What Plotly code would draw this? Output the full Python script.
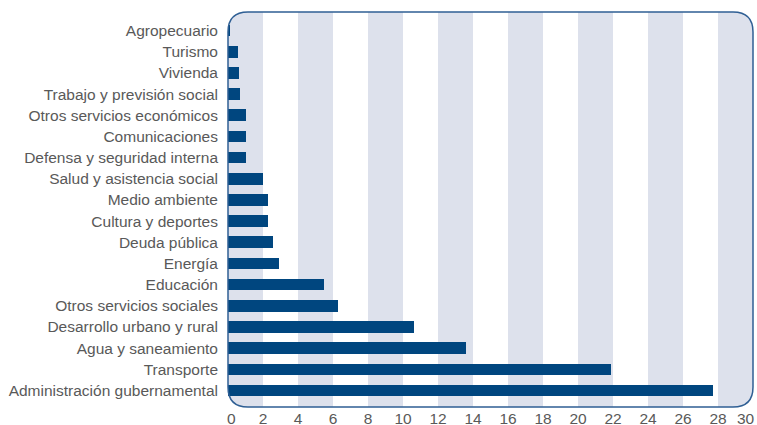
import plotly.graph_objects as go

categories = [
    "Agropecuario", "Turismo", "Vivienda", "Trabajo y previsión social",
    "Otros servicios económicos", "Comunicaciones", "Defensa y seguridad interna",
    "Salud y asistencia social", "Medio ambiente", "Cultura y deportes",
    "Deuda pública", "Energía", "Educación", "Otros servicios sociales",
    "Desarrollo urbano y rural", "Agua y saneamiento", "Transporte",
    "Administración gubernamental",
]
values = [0.1, 0.55, 0.6, 0.7, 1.05, 1.05, 1.05, 2.0, 2.3, 2.3,
          2.55, 2.9, 5.5, 6.3, 10.6, 13.6, 21.9, 27.7]
x_ticks = list(range(0, 31, 2))

# plot the bottom-most category first (Plotly puts first category at bottom)
cats_plot = categories[::-1]
vals_plot = values[::-1]

W, H = 757, 425
ml, mr, mt, mb = 228, 4, 12, 18
pw = W - ml - mr
ph = H - mt - mb
xmax = 30
r_px = 20
rx_p = r_px / pw
ry_p = r_px / ph
rx_d = r_px / pw * xmax

bar_color = "#00467F"
band_color = "#DDE1EC"
frame_color = "#2F5F94"
text_color = "#595959"
fsize = 15.5

fig = go.Figure()
fig.add_trace(go.Bar(
    x=vals_plot, y=cats_plot, orientation="h",
    marker=dict(color=bar_color, line=dict(width=0)),
    width=0.55, hoverinfo="x+y",
))

shapes = []
for start in range(0, xmax, 4):
    end = start + 2
    if start == 0:
        path = (f"M {end},0 L {rx_d},0 Q 0,0 0,{ry_p} L 0,{1-ry_p} "
                f"Q 0,1 {rx_d},1 L {end},1 Z")
    elif end == xmax:
        path = (f"M {start},0 L {xmax-rx_d},0 Q {xmax},0 {xmax},{ry_p} "
                f"L {xmax},{1-ry_p} Q {xmax},1 {xmax-rx_d},1 L {start},1 Z")
    else:
        path = f"M {start},0 L {end},0 L {end},1 L {start},1 Z"
    shapes.append(dict(type="path", xref="x", yref="paper", path=path,
                       fillcolor=band_color, line=dict(width=0), layer="below"))

frame = (f"M {rx_p},0 L {1-rx_p},0 Q 1,0 1,{ry_p} L 1,{1-ry_p} Q 1,1 {1-rx_p},1 "
         f"L {rx_p},1 Q 0,1 0,{1-ry_p} L 0,{ry_p} Q 0,0 {rx_p},0 Z")
shapes.append(dict(type="path", xref="paper", yref="paper", path=frame,
                   line=dict(color=frame_color, width=1.5), layer="above"))

# end tick labels are nudged inward in the reference, so draw them as annotations
inner_text = [str(t) if 0 < t < xmax else "" for t in x_ticks]
annotations = [
    dict(x=0, y=0, xref="paper", yref="paper", text=str(x_ticks[0]),
         showarrow=False, xanchor="center", yanchor="middle",
         xshift=3.5, yshift=-11.5, borderpad=0,
         font=dict(size=fsize, color=text_color)),
    dict(x=1, y=0, xref="paper", yref="paper", text=str(x_ticks[-1]),
         showarrow=False, xanchor="right", yanchor="middle",
         xshift=3, yshift=-11.5, borderpad=0,
         font=dict(size=fsize, color=text_color)),
]

n = len(categories)
fig.update_layout(
    width=W, height=H,
    margin=dict(l=ml, r=mr, t=mt, b=mb, pad=0, autoexpand=False),
    paper_bgcolor="white", plot_bgcolor="white",
    showlegend=False,
    shapes=shapes,
    annotations=annotations,
    bargap=0,
    font=dict(family="Liberation Sans, Arial, sans-serif", size=fsize, color=text_color),
    xaxis=dict(range=[0, xmax], tickvals=x_ticks, ticktext=inner_text,
               showgrid=False, zeroline=False, showline=False, ticks="",
               automargin=False, ticklabelstandoff=0,
               tickfont=dict(size=fsize, color=text_color), fixedrange=True),
    yaxis=dict(type="category", categoryorder="array", categoryarray=cats_plot,
               range=[-0.78, n - 1 + 0.88], showgrid=False, zeroline=False,
               showline=False, ticks="", ticklabelstandoff=9, automargin=False,
               tickfont=dict(size=fsize, color=text_color), fixedrange=True),
)

# remove the default page margin so the figure fills the 757x425 view exactly
fig.write_html(
    "out.html",
    config={"displayModeBar": False},
    post_script="document.body.style.margin='0';document.body.style.overflow='hidden';",
)
